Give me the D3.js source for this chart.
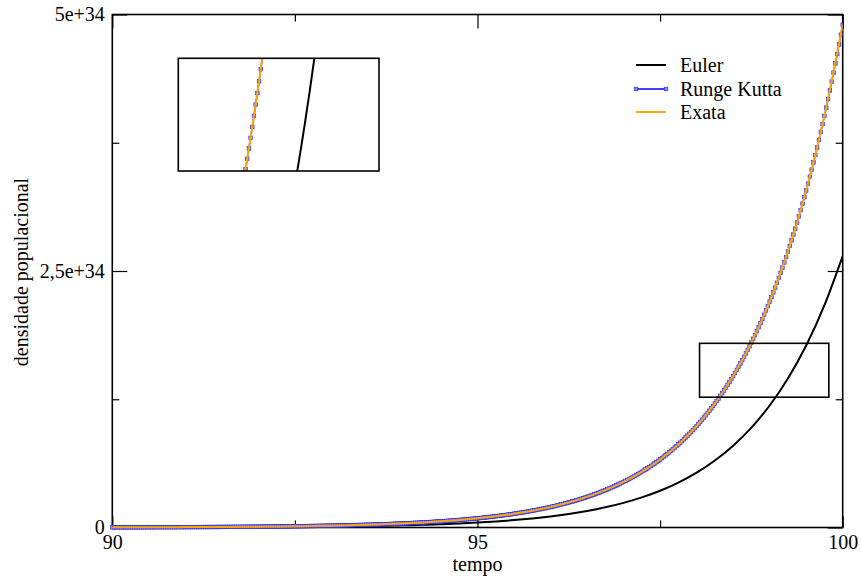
<!DOCTYPE html>
<html><head><meta charset="utf-8">
<script src="https://cdn.jsdelivr.net/npm/d3@7"></script>
<style>
body{margin:0;background:#fff}
svg{display:block}
text{font-family:"Liberation Serif","Times New Roman",serif;fill:#000}
</style>
</head><body>
<svg id="c" width="861" height="576"></svg>
<script>
// ---- data (values in units of 1e33) ----
const xMajor = [90, 95, 100];
const xLabels = ["90", "95", "100"];
const xMinor = [92.5, 97.5];
const yMajor = [0, 25, 50];
const yLabels = ["0", "2,5e+34", "5e+34"];
const yMinor = [12.5, 37.5];
const seriesNames = ["Euler", "Runge Kutta", "Exata"];

const tempo = [90,90.25,90.5,90.75,91,91.25,91.5,91.75,92,92.25,92.5,92.75,93,93.25,93.5,93.75,94,94.25,94.5,94.75,95,95.25,95.5,95.75,96,96.25,96.5,96.75,97,97.25,97.5,97.75,98,98.25,98.5,98.75,99,99.25,99.5,99.75,100];
const exata = [0.0164,0.0201,0.0245,0.0300,0.0366,0.0447,0.0546,0.0667,0.0814,0.0994,0.1214,0.1483,0.1812,0.2213,0.2703,0.3301,0.4032,0.4925,0.6015,0.7347,0.8974,1.096,1.339,1.635,1.997,2.439,2.980,3.640,4.445,5.429,6.631,8.099,9.893,12.083,14.758,18.026,22.017,26.892,32.846,40.118,49.0];
const euler = [0.0089,0.0109,0.0132,0.0162,0.0198,0.0241,0.0295,0.0360,0.0440,0.0537,0.0656,0.0801,0.0978,0.1195,0.1460,0.1783,0.2177,0.2660,0.3248,0.3967,0.4846,0.592,0.723,0.883,1.078,1.317,1.609,1.966,2.400,2.932,3.581,4.373,5.342,6.525,7.969,9.734,11.889,14.522,17.737,21.664,26.46];

const rkStart = 90, rkStep = 0.025;
const rungeKutta = [
0.0164,0.0168,0.0171,0.0175,0.0178,0.0182,0.0185,0.0189,0.0193,0.0197,0.0201,0.0205,0.0209,0.0213,0.0218,0.0222,0.0226,0.0231,0.0236,0.0240,
0.0245,0.0250,0.0255,0.0260,0.0266,0.0271,0.0277,0.0282,0.0288,0.0294,0.0300,0.0306,0.0312,0.0318,0.0325,0.0331,0.0338,0.0345,0.0352,0.0359,
0.0366,0.0373,0.0381,0.0389,0.0396,0.0404,0.0413,0.0421,0.0430,0.0438,0.0447,0.0456,0.0465,0.0475,0.0484,0.0494,0.0504,0.0514,0.0525,0.0535,
0.0546,0.0557,0.0568,0.0580,0.0591,0.0603,0.0616,0.0628,0.0641,0.0654,0.0667,0.0680,0.0694,0.0708,0.0722,0.0737,0.0752,0.0767,0.0783,0.0798,
0.0814,0.0830,0.0847,0.0864,0.0882,0.0900,0.0918,0.0936,0.0955,0.0975,0.0994,0.1014,0.1035,0.1056,0.1077,0.1099,0.1121,0.1144,0.1167,0.1190,
0.1214,0.1239,0.1264,0.1289,0.1315,0.1342,0.1369,0.1396,0.1425,0.1453,0.1483,0.1513,0.1543,0.1574,0.1606,0.1639,0.1672,0.1706,0.1740,0.1775,
0.1812,0.1849,0.1886,0.1924,0.1963,0.2003,0.2043,0.2084,0.2126,0.2169,0.2213,0.2258,0.2304,0.2350,0.2398,0.2446,0.2495,0.2546,0.2597,0.2650,
0.2703,0.2758,0.2813,0.2870,0.2928,0.2987,0.3048,0.3109,0.3172,0.3236,0.3301,0.3368,0.3436,0.3506,0.3576,0.3649,0.3722,0.3798,0.3874,0.3953,
0.4032,0.4113,0.4197,0.4281,0.4368,0.4456,0.4546,0.4638,0.4732,0.4827,0.4925,0.5024,0.5126,0.5229,0.5335,0.5443,0.5553,0.5665,0.5779,0.5896,
0.6015,0.6137,0.6260,0.6387,0.6516,0.6648,0.6782,0.6919,0.7059,0.7201,0.7347,0.7495,0.7647,0.7801,0.7959,0.8119,0.8283,0.8451,0.8622,0.8796,
0.8974,0.9155,0.9340,0.9529,0.9722,0.9918,1.0118,1.0323,1.0531,1.0744,1.0961,1.1182,1.1408,1.1639,1.1874,1.2113,1.2358,1.2608,1.2863,1.3122,
1.339,1.366,1.394,1.422,1.451,1.480,1.510,1.540,1.571,1.603,1.635,1.669,1.702,1.737,1.772,1.807,1.844,1.881,1.919,1.958,
1.997,2.037,2.079,2.121,2.163,2.207,2.252,2.297,2.344,2.391,2.439,2.488,2.539,2.590,2.642,2.696,2.750,2.806,2.862,2.920,
2.980,3.040,3.102,3.164,3.228,3.293,3.360,3.428,3.497,3.568,3.640,3.713,3.788,3.865,3.943,4.023,4.104,4.187,4.271,4.358,
4.445,4.535,4.626,4.720,4.815,4.912,5.012,5.113,5.216,5.322,5.429,5.539,5.651,5.765,5.881,6.000,6.121,6.245,6.371,6.500,
6.631,6.765,6.902,7.041,7.183,7.328,7.477,7.627,7.782,7.939,8.099,8.263,8.430,8.600,8.774,8.951,9.132,9.316,9.504,9.696,
9.893,10.093,10.297,10.505,10.717,10.933,11.154,11.380,11.610,11.844,12.083,12.327,12.576,12.830,13.090,13.354,13.624,13.899,14.180,14.466,
14.758,15.056,15.360,15.671,15.987,16.310,16.640,16.976,17.319,17.669,18.026,18.390,18.761,19.140,19.527,19.921,20.324,20.734,21.153,21.580,
22.017,22.462,22.915,23.378,23.851,24.333,24.824,25.326,25.837,26.359,26.892,27.435,27.989,28.554,29.131,29.720,30.320,30.933,31.558,32.195,
32.846,33.510,34.187,34.877,35.582,36.301,37.034,37.782,38.545,39.324,40.118,40.929,41.756,42.599,43.460,44.338,45.233,46.147,47.079,48.030,
49.0];

// zoom window shown in the main plot and in the inset
const zoomBoxTempo = [98.04, 99.81];
const zoomBoxValue = [12.7, 17.95];
const insetTempo = [97.63, 100.6];
const insetValue = [16.25, 19.88];

// ---- drawing ----
const svg = d3.select("#c");
const L = 112.3, R = 842.7, T = 14.5, B = 527.5;
const x = d3.scaleLinear().domain([90, 100]).range([L, R]);
const y = d3.scaleLinear().domain([0, 50]).range([B, T]);

const exData = tempo.map((t, i) => [t, exata[i]]);
const euData = tempo.map((t, i) => [t, euler[i]]);
const rkData = rungeKutta.map((v, i) => [rkStart + i * rkStep, v]);

const FS = 20;
const styleAxis = g => {
  g.select(".domain").remove();
  g.selectAll("line").attr("stroke", "#000").attr("stroke-width", 1.2);
  g.selectAll("text").attr("font-size", FS).attr("fill", "#000");
  g.attr("font-family", null).attr("font-size", null);
};

// bottom
svg.append("g").attr("transform", `translate(0,${B})`)
  .call(d3.axisBottom(x).tickValues(xMajor).tickSize(-11).tickPadding(7.3).tickFormat((d, i) => xLabels[i])).call(styleAxis);
svg.append("g").attr("transform", `translate(0,${B})`)
  .call(d3.axisBottom(x).tickValues(xMinor).tickSize(-7).tickFormat("")).call(styleAxis);
// top
svg.append("g").attr("transform", `translate(0,${T})`)
  .call(d3.axisTop(x).tickValues(xMajor).tickSize(-14).tickFormat("")).call(styleAxis);
svg.append("g").attr("transform", `translate(0,${T})`)
  .call(d3.axisTop(x).tickValues(xMinor).tickSize(-7).tickFormat("")).call(styleAxis);
// left
svg.append("g").attr("transform", `translate(${L},0)`)
  .call(d3.axisLeft(y).tickValues(yMajor).tickSize(-15).tickPadding(7.5).tickFormat((d, i) => yLabels[i])).call(styleAxis);
svg.append("g").attr("transform", `translate(${L},0)`)
  .call(d3.axisLeft(y).tickValues(yMinor).tickSize(-7).tickFormat("")).call(styleAxis);
// right
svg.append("g").attr("transform", `translate(${R},0)`)
  .call(d3.axisRight(y).tickValues(yMajor).tickSize(-15).tickFormat("")).call(styleAxis);
svg.append("g").attr("transform", `translate(${R},0)`)
  .call(d3.axisRight(y).tickValues(yMinor).tickSize(-7).tickFormat("")).call(styleAxis);

// frame
svg.append("rect").attr("x", L).attr("y", T).attr("width", R - L).attr("height", B - T)
  .attr("fill", "none").attr("stroke", "#000").attr("stroke-width", 1.6);

// axis titles
svg.append("text").attr("x", (L + R) / 2).attr("y", 570.5).attr("text-anchor", "middle")
  .attr("font-size", FS).text("tempo");
svg.append("text").attr("transform", `translate(28,${(T + B) / 2 + 1}) rotate(-90)`)
  .attr("text-anchor", "middle").attr("font-size", FS).text("densidade populacional");

function drawSeries(g, xs, ys) {
  const smooth = d3.line().x(d => xs(d[0])).y(d => ys(d[1])).curve(d3.curveNatural);
  const lin = d3.line().x(d => xs(d[0])).y(d => ys(d[1]));
  g.append("path").datum(euData).attr("d", smooth).attr("fill", "none").attr("stroke", "#000").attr("stroke-width", 2);
  g.append("path").datum(rkData).attr("d", lin).attr("fill", "none").attr("stroke", "#0000ff").attr("stroke-width", 1.5);
  const ms = 3.6;
  g.append("g").selectAll("rect").data(rkData).join("rect")
    .attr("x", d => xs(d[0]) - ms / 2).attr("y", d => ys(d[1]) - ms / 2)
    .attr("width", ms).attr("height", ms)
    .attr("fill", "#8a8aff").attr("stroke", "#2020ff").attr("stroke-width", 0.6);
  g.append("path").datum(exData).attr("d", smooth).attr("fill", "none").attr("stroke", "#ffa500").attr("stroke-width", 2);
}

// main curves
const defs = svg.append("defs");
defs.append("clipPath").attr("id", "mainClip").append("rect")
  .attr("x", L - 3).attr("y", T).attr("width", R - L + 3).attr("height", B - T + 4);
drawSeries(svg.append("g").attr("clip-path", "url(#mainClip)"), x, y);

// zoom box in main plot
svg.append("rect")
  .attr("x", x(zoomBoxTempo[0])).attr("y", y(zoomBoxValue[1]))
  .attr("width", x(zoomBoxTempo[1]) - x(zoomBoxTempo[0]))
  .attr("height", y(zoomBoxValue[0]) - y(zoomBoxValue[1]))
  .attr("fill", "none").attr("stroke", "#000").attr("stroke-width", 1.6);

// inset
const iL = 178.3, iR = 379, iT = 58.3, iB = 171;
const xi = d3.scaleLinear().domain(insetTempo).range([iL, iR]);
const yi = d3.scaleLinear().domain(insetValue).range([iB, iT]);
defs.append("clipPath").attr("id", "insetClip").append("rect")
  .attr("x", iL).attr("y", iT).attr("width", iR - iL).attr("height", iB - iT);
svg.append("rect").attr("x", iL).attr("y", iT).attr("width", iR - iL).attr("height", iB - iT).attr("fill", "#fff");
drawSeries(svg.append("g").attr("clip-path", "url(#insetClip)"), xi, yi);
svg.append("rect").attr("x", iL).attr("y", iT).attr("width", iR - iL).attr("height", iB - iT)
  .attr("fill", "none").attr("stroke", "#000").attr("stroke-width", 1.6);

// legend
const lg = svg.append("g");
const legY = [65, 89, 112];
const lx0 = 636, lx1 = 666;
seriesNames.forEach((name, i) => {
  const yy = legY[i];
  if (i === 0) lg.append("line").attr("x1", lx0).attr("x2", lx1).attr("y1", yy).attr("y2", yy).attr("stroke", "#000").attr("stroke-width", 2);
  if (i === 1) {
    lg.append("line").attr("x1", lx0).attr("x2", lx1).attr("y1", yy).attr("y2", yy).attr("stroke", "#0000ff").attr("stroke-width", 1.5);
    [lx0, lx1].forEach(px => lg.append("rect").attr("x", px - 1.8).attr("y", yy - 1.8).attr("width", 3.6).attr("height", 3.6)
      .attr("fill", "#8a8aff").attr("stroke", "#2020ff").attr("stroke-width", 0.6));
  }
  if (i === 2) lg.append("line").attr("x1", lx0).attr("x2", lx1).attr("y1", yy).attr("y2", yy).attr("stroke", "#ffa500").attr("stroke-width", 2);
  lg.append("text").attr("x", 680).attr("y", yy).attr("dy", "0.34em").attr("font-size", FS).text(name);
});
</script>
</body></html>
